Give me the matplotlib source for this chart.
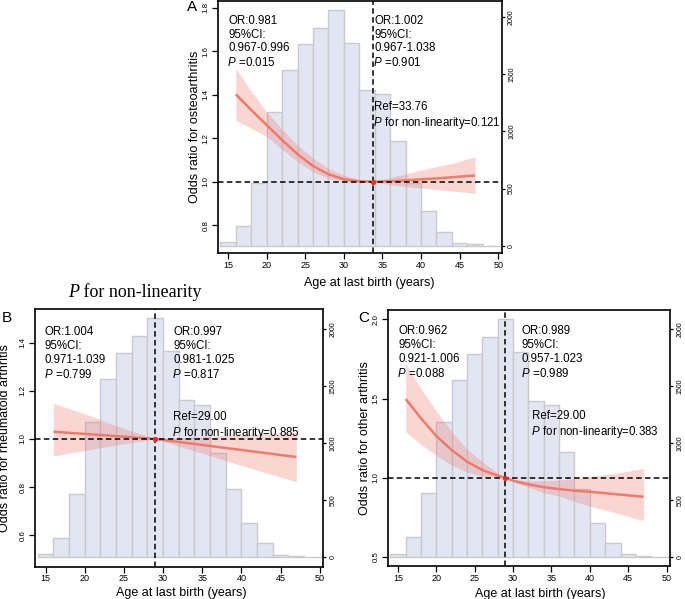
import numpy as np
import matplotlib
matplotlib.use('Agg')
import matplotlib.pyplot as plt

plt.rcParams['font.family'] = ['Liberation Sans', 'DejaVu Sans']
plt.rcParams['mathtext.fontset'] = 'custom'
plt.rcParams['mathtext.it'] = 'Liberation Sans:italic'
plt.rcParams['mathtext.rm'] = 'Liberation Sans'

# histogram of age at last birth, 2-year bins starting at 14
bin_left = [14, 16, 18, 20, 22, 24, 26, 28, 30, 32, 34, 36, 38, 40, 42, 44, 46, 48, 50]
counts_a = [32, 174, 552, 1169, 1532, 1759, 1898, 2058, 1773, 1358, 1329, 918, 550, 306, 124, 26, 15, 4, 2]
counts_b = [26, 174, 559, 1191, 1565, 1791, 1941, 2103, 1809, 1382, 1335, 918, 596, 300, 124, 20, 12, 4, 2]
counts_c = [26, 175, 561, 1184, 1556, 1784, 1930, 2088, 1798, 1374, 1335, 924, 603, 300, 124, 29, 12, 4, 2]

# A: osteoarthritis
age_a = [16, 18, 20, 22, 24, 26, 28, 30, 32, 33.76, 36, 38, 40, 42, 44, 46, 47]
or_a = [1.401, 1.329, 1.260, 1.191, 1.126, 1.072, 1.034, 1.011, 1.002, 1.0, 1.002, 1.006, 1.011, 1.015, 1.020, 1.026, 1.028]
up_a = [1.521, 1.415, 1.320, 1.240, 1.168, 1.108, 1.061, 1.030, 1.008, 1.0, 1.018, 1.036, 1.054, 1.069, 1.084, 1.104, 1.115]
lo_a = [1.283, 1.245, 1.207, 1.148, 1.092, 1.045, 1.015, 1.000, 0.998, 1.0, 0.986, 0.978, 0.971, 0.964, 0.957, 0.950, 0.946]

# B: rheumatoid arthritis
age_b = [16, 20, 24, 29, 35, 41, 47]
or_b = [1.030, 1.021, 1.012, 1.0, 0.975, 0.950, 0.925]
up_b = [1.148, 1.105, 1.055, 1.0, 1.010, 1.020, 1.028]
lo_b = [0.929, 0.952, 0.975, 1.0, 0.940, 0.880, 0.822]

# C: other arthritis
age_c = [16, 18, 20, 22, 24, 26, 28, 29, 30, 32, 34, 36, 38, 40, 42, 44, 46, 47]
or_c = [1.497, 1.375, 1.263, 1.175, 1.101, 1.048, 1.013, 1.0, 0.981, 0.958, 0.940, 0.928, 0.918, 0.911, 0.902, 0.893, 0.884, 0.880]
up_c = [1.723, 1.560, 1.420, 1.290, 1.180, 1.100, 1.030, 1.0, 0.990, 0.980, 0.982, 0.985, 0.995, 1.006, 1.020, 1.033, 1.050, 1.057]
lo_c = [1.290, 1.210, 1.140, 1.080, 1.035, 1.010, 1.003, 1.0, 0.973, 0.940, 0.905, 0.884, 0.850, 0.820, 0.795, 0.770, 0.740, 0.730]

refs = [33.76, 29.00, 29.00]
ylabels = ['Odds ratio for osteoarthritis', 'Odds ratio for rheumatoid arthritis', 'Odds ratio for other arthritis']
left_txt = ['OR:0.981\n95%CI:\n0.967-0.996\n$\\!P$ =0.015',
            'OR:1.004\n95%CI:\n0.971-1.039\n$\\!P$ =0.799',
            'OR:0.962\n95%CI:\n0.921-1.006\n$\\!P$ =0.088']
right_txt = ['OR:1.002\n95%CI:\n0.967-1.038\n$\\!P$ =0.901',
             'OR:0.997\n95%CI:\n0.981-1.025\n$\\!P$ =0.817',
             'OR:0.989\n95%CI:\n0.957-1.023\n$\\!P$ =0.989']
ref_txt = ['Ref=33.76\n$\\!P$ for non-linearity=0.121',
           'Ref=29.00\n$\\!P$ for non-linearity=0.885',
           'Ref=29.00\n$\\!P$ for non-linearity=0.383']

BAR_FACE = '#E1E6F2'
BAR_EDGE = '#C9C9CE'
LINE_C = '#EE7B6A'
BAND_C = '#F07870'

W, H = 685, 599
fig = plt.figure(figsize=(W / 100, H / 100), dpi=100)


def px_rect(l, t, r, b):
    return [l / W, 1 - b / H, (r - l) / W, (b - t) / H]


def panel(rect, counts, age, orv, lo, up, ref, ylim_or, ylim_n, or_ticks,
          ylabel, ylab_x, xlab_xy, txts, txt_pos):
    axh = fig.add_axes(rect)
    axh.bar(bin_left, counts, width=2, align='edge', color=BAR_FACE,
            edgecolor=BAR_EDGE, linewidth=1.0)
    axh.set_ylim(*ylim_n)
    axh.set_yticks([0, 500, 1000, 1500, 2000])
    for s in axh.spines.values():
        s.set_visible(False)

    ax = axh.twinx()
    axh.yaxis.tick_right()
    ax.yaxis.tick_left()
    axh.tick_params(axis='y', labelsize=5, length=2.4, width=0.9, pad=2.2)
    for lab in axh.get_yticklabels():
        lab.set_rotation(90)
        lab.set_va('center')

    ax.fill_between(age, lo, up, color=BAND_C, alpha=0.3, linewidth=0, zorder=2)
    ax.plot(age, orv, color=LINE_C, lw=1.8, zorder=3, solid_capstyle='butt')
    ax.axhline(1.0, color='black', lw=1.1, dashes=(3.6, 2.2), zorder=4)
    ax.axvline(ref, color='black', lw=1.1, dashes=(3.6, 2.2), zorder=4)
    ax.plot([ref], [1.0], 'o', color='#E2302A', ms=2.8, zorder=5)
    ax.set_ylim(*ylim_or)
    ax.set_yticks(or_ticks)
    ax.set_yticklabels(['%.1f' % v for v in or_ticks])
    ax.tick_params(axis='y', labelsize=5.7, length=4.2, width=0.9, pad=1.8)
    for lab in ax.get_yticklabels():
        lab.set_rotation(90)
        lab.set_va('center')
    ax.set_xlim(13.65, 50.45)
    axh.set_xlim(13.65, 50.45)
    axh.set_xticks([15, 20, 25, 30, 35, 40, 45, 50])
    axh.tick_params(axis='x', labelsize=6.5, length=4.0, width=0.9, pad=1.5)
    for s in ax.spines.values():
        s.set_linewidth(1.2)
    ax.text(ylab_x, 0.5, ylabel, transform=ax.transAxes, rotation=90,
            ha='center', va='center', fontsize=9)
    ax.text(xlab_xy[0], xlab_xy[1], 'Age at last birth (years)', transform=ax.transAxes,
            ha='center', va='center', fontsize=9)
    tr = ax.get_xaxis_transform()
    for s, (x, y) in zip(txts, txt_pos):
        ax.text(x, y, s, transform=tr, ha='left', va='top', fontsize=8.3,
                linespacing=1.2, zorder=6)
    return ax


panel(px_rect(217.7, 1, 501.7, 253.3), counts_a, age_a, or_a, lo_a, up_a, refs[0],
      (0.671, 1.830), (-64, 2137), [0.8, 1.0, 1.2, 1.4, 1.6, 1.8],
      ylabels[0], -0.080, (0.533, -0.118),
      [left_txt[0], right_txt[0], ref_txt[0]],
      [(15.0, 0.945), (33.95, 0.945), (33.95, 0.604)])

panel(px_rect(35, 309.3, 323.3, 566.7), counts_b, age_b, or_b, lo_b, up_b, refs[1],
      (0.469, 1.539), (-82, 2175), [0.6, 0.8, 1.0, 1.2, 1.4],
      ylabels[1], -0.104, (0.509, -0.102),
      [left_txt[1], right_txt[1], ref_txt[1]],
      [(14.9, 0.935), (31.3, 0.935), (31.3, 0.605)])

panel(px_rect(387.7, 310, 670, 566), counts_c, age_c, or_c, lo_c, up_c, refs[2],
      (0.442, 2.06), (-76, 2169), [0.5, 1.0, 1.5, 2.0],
      ylabels[2], -0.080, (0.539, -0.109),
      [left_txt[2], right_txt[2], ref_txt[2]],
      [(15.0, 0.940), (31.1, 0.940), (32.4, 0.610)])

# panel letters
fig.text(187 / W, 1 - 7 / H, 'A', ha='left', va='center', fontsize=11)
fig.text(2 / W, 1 - 317.5 / H, 'B', ha='left', va='center', fontsize=11)
fig.text(358 / W, 1 - 318 / H, 'C', ha='left', va='center', fontsize=11)

# stray caption between panels
t1 = fig.text(68 / W, 1 - 292 / H, 'P', ha='left', va='center', fontsize=13,
              family='Liberation Serif', style='italic')
fig.canvas.draw()
bb = t1.get_window_extent()
fig.text(bb.x1 / W, 1 - 292 / H, ' for non-linearity', ha='left', va='center',
         fontsize=13, family='Liberation Serif')

fig.savefig('out.png', dpi=100)
